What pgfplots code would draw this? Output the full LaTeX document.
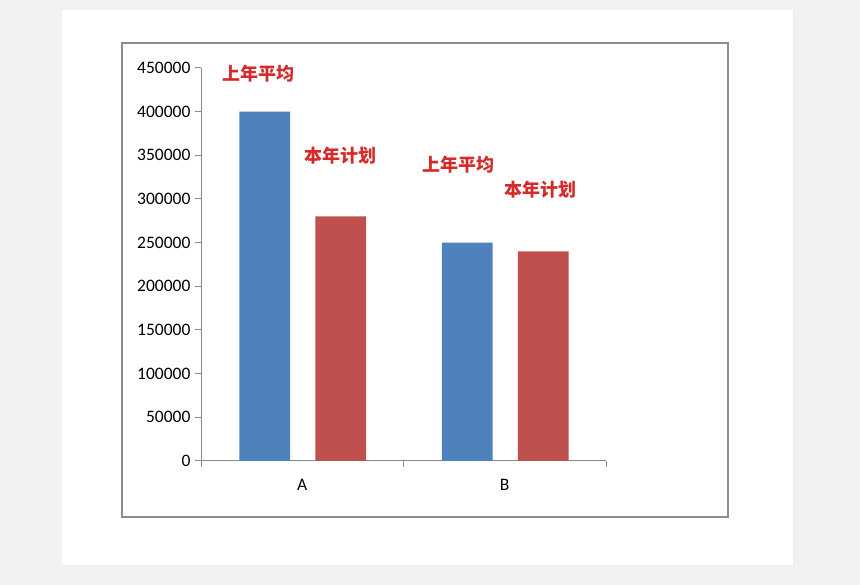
\documentclass[border=0pt]{standalone}
\usepackage{pgfplots}
\pgfplotsset{compat=1.18}
\usepackage{fontspec}
\setmainfont{Carlito}
\newfontfamily\cjk{Noto Sans CJK SC}

\definecolor{bgray}{HTML}{F2F2F2}
\definecolor{frame}{HTML}{8C8C8C}
\definecolor{axisc}{HTML}{8A8A8A}
\definecolor{xlblue}{HTML}{4F81BD}
\definecolor{xlred}{HTML}{C0504D}
\definecolor{lblred}{HTML}{D42A2A}

\pgfplotstableread{
x  prev    plan
0  400000  280000
1  250000  240000
}\sales

\begin{document}
\begin{tikzpicture}[x=1pt,y=1pt]
  % page, card and chart frame (1pt = 1px)
  \fill[bgray] (0,0) rectangle (860,585);
  \fill[black!6] (63,18) rectangle (795,575);
  \fill[white] (62,20) rectangle (793,575);
  \draw[frame, line width=1.2pt] (122,68) rectangle (728,542);

  \begin{axis}[
    at={(201pt,124pt)}, anchor=south west,
    scale only axis, width=405pt, height=393pt,
    ybar, bar width=0.25,
    xmin=-0.5, xmax=1.5,
    ymin=0, ymax=450000,
    ytick={0,50000,...,450000},
    scaled y ticks=false,
    yticklabel style={xshift=-1pt,
      /pgf/number format/fixed,
      /pgf/number format/1000 sep={},
      /pgf/number format/assume math mode=true},
    xtick={-0.5,0.5,1.5}, xticklabels={},
    extra x ticks={0,1},
    extra x tick labels={A,B},
    extra x tick style={major tick length=0pt, xticklabel style={yshift=-15pt}},
    axis lines*=left,
    axis line style={axisc, line width=1pt},
    tick style={axisc, line width=1pt},
    tick align=outside, major tick length=6pt,
    ticklabel style={font=\fontsize{17.5}{19}\selectfont, black},
    clip=false,
  ]
    \addplot[fill=xlblue, draw=none, bar shift=-0.185] table[x=x, y=prev] {\sales};
    \addplot[fill=xlred, draw=none, bar shift=0.19] table[x=x, y=plan] {\sales};

    \begin{scope}[every node/.style={text=lblred, font=\cjk\bfseries\fontsize{18}{20}\selectfont}]
      \node at (axis cs:-0.218,444000) {上年平均};
      \node at (axis cs:0.188,350000) {本年计划};
      \node at (axis cs:0.772,339000) {上年平均};
      \node at (axis cs:1.177,311000) {本年计划};
    \end{scope}
  \end{axis}
\end{tikzpicture}
\end{document}
